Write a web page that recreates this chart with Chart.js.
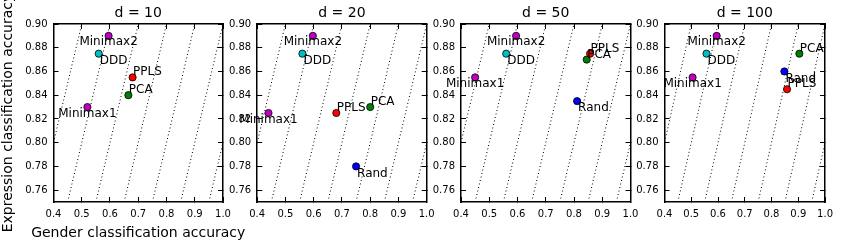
<!DOCTYPE html>
<html><head><meta charset="utf-8">
<script src="https://cdn.jsdelivr.net/npm/chart.js@4/dist/chart.umd.min.js"></script>
<style>
html,body{margin:0;padding:0;background:#fff;width:844px;height:246px;overflow:hidden}
#wrap{position:relative;width:844px;height:246px}
canvas{position:absolute;left:0;top:0}
</style></head>
<body><div id="wrap"></div>
<script>
// ---- data ----
const panelTitles = ['d = 10', 'd = 20', 'd = 50', 'd = 100'];
const methods = ['Minimax1', 'Minimax2', 'DDD', 'PPLS', 'PCA', 'Rand'];
const minimax1X = [0.52, 0.44, 0.45, 0.505];
const minimax1Y = [0.83, 0.825, 0.855, 0.855];
const minimax2X = [0.595, 0.597, 0.595, 0.595];
const minimax2Y = [0.89, 0.89, 0.89, 0.89];
const dddX = [0.56, 0.56, 0.56, 0.557];
const dddY = [0.875, 0.875, 0.875, 0.875];
const pplsX = [0.68, 0.68, 0.857, 0.858];
const pplsY = [0.855, 0.825, 0.875, 0.845];
const pcaX = [0.665, 0.80, 0.845, 0.904];
const pcaY = [0.84, 0.83, 0.87, 0.875];
const randX = [null, 0.75, 0.811, 0.848];
const randY = [null, 0.78, 0.835, 0.86];
const xTicks = [0.4, 0.5, 0.6, 0.7, 0.8, 0.9, 1.0];
const yTicks = [0.76, 0.78, 0.80, 0.82, 0.84, 0.86, 0.88, 0.90];
// dotted reference lines: start x at y=0.75, end x at y=0.90
const diagStartX = [0.35, 0.45, 0.55, 0.65, 0.75, 0.85, 0.95];
const diagEndX = [0.50, 0.60, 0.70, 0.80, 0.90, 1.00, 1.10];
const xLabel = 'Gender classification accuracy';
const yLabel = 'Expression classification accuracy';

const seriesX = {Minimax1: minimax1X, Minimax2: minimax2X, DDD: dddX, PPLS: pplsX, PCA: pcaX, Rand: randX};
const seriesY = {Minimax1: minimax1Y, Minimax2: minimax2Y, DDD: dddY, PPLS: pplsY, PCA: pcaY, Rand: randY};

// ---- styles ----
const colors = {Minimax1: '#bf00bf', Minimax2: '#bf00bf', DDD: '#00bfbf', PPLS: '#ff0000', PCA: '#008000', Rand: '#0000ff'};
const labelStyle = {
  Minimax1: {align: 'center', dx: 0, dy: 9.5},
  Minimax2: {align: 'center', dx: 0, dy: 9.5},
  DDD: {align: 'left', dx: 1, dy: 10.3},
  Rand: {align: 'left', dx: 1, dy: 10.3},
  PPLS: {align: 'left', dx: 0.5, dy: -2},
  PCA: {align: 'left', dx: 0.5, dy: -2}
};
const FONT = '"DejaVu Sans", "Liberation Sans", sans-serif';
Chart.defaults.font.family = FONT;
Chart.defaults.color = '#000';

const W = 844, H = 246;
const plotW = 169.5, yAxisW = 53.5, xAxisH = 44, plotTop = 24;
const plotLefts = [53.5, 257.2, 461, 664.5];

const wrap = document.getElementById('wrap');

panelTitles.forEach((title, p) => {
  const cv = document.createElement('canvas');
  cv.width = W; cv.height = H;
  cv.style.width = W + 'px'; cv.style.height = H + 'px';
  wrap.appendChild(cv);

  const datasets = [];
  methods.forEach(m => {
    const x = seriesX[m][p], y = seriesY[m][p];
    if (x == null || y == null) return;
    datasets.push({
      type: 'scatter', methodName: m, order: 0,
      data: [{x: x, y: y}],
      pointRadius: 3.6, pointBorderWidth: 0.8,
      pointBackgroundColor: colors[m], pointBorderColor: '#000',
      clip: false
    });
  });
  diagStartX.forEach((sx, k) => {
    datasets.push({
      type: 'line', order: 1,
      data: [{x: sx, y: 0.75}, {x: diagEndX[k], y: 0.90}],
      borderColor: '#000', borderWidth: 1, borderDash: [1, 2.6],
      pointRadius: 0, fill: false, tension: 0
    });
  });

  const L = plotLefts[p];
  const R = L + plotW;
  const tickGrid = {drawOnChartArea: false, drawTicks: true, tickLength: -5, color: '#000', lineWidth: 1};
  const border = {display: true, color: '#000', width: 1.5};

  const labelPlugin = {
    id: 'panelText' + p,
    afterDatasetsDraw(chart) {
      const ctx = chart.ctx;
      const ca = chart.chartArea;
      ctx.save();
      ctx.fillStyle = '#000';
      ctx.font = '12px ' + FONT;
      ctx.textBaseline = 'alphabetic';
      chart.data.datasets.forEach((ds, i) => {
        if (!ds.methodName) return;
        const pt = chart.getDatasetMeta(i).data[0];
        const st = labelStyle[ds.methodName];
        ctx.textAlign = st.align;
        ctx.fillText(ds.methodName, pt.x + st.dx, pt.y + st.dy);
      });
      ctx.font = '14px ' + FONT;
      ctx.textAlign = 'center';
      ctx.fillText(title, (ca.left + ca.right) / 2, 16.6);
      if (p === 0) {
        ctx.fillText(xLabel, (ca.left + ca.right) / 2, 236.5);
      }
      ctx.restore();
    }
  };

  new Chart(cv, {
    type: 'scatter',
    data: {datasets: datasets},
    options: {
      responsive: false, animation: false, events: [],
      devicePixelRatio: 1,
      layout: {padding: {left: L - yAxisW, right: W - R, top: plotTop, bottom: 0}},
      plugins: {legend: {display: false}, tooltip: {enabled: false}, title: {display: false}},
      scales: {
        x: {
          type: 'linear', position: 'bottom', min: 0.4, max: 1.0,
          afterBuildTicks: s => { s.ticks = xTicks.map(v => ({value: v})); },
          afterFit: s => { s.height = xAxisH; },
          ticks: {autoSkip: false, maxRotation: 0, padding: 11, font: {size: 10}, color: '#000',
                  callback: v => Number(v).toFixed(1)},
          grid: tickGrid, border: border
        },
        x2: {
          type: 'linear', position: 'top', min: 0.4, max: 1.0,
          afterBuildTicks: s => { s.ticks = xTicks.map(v => ({value: v})); },
          afterFit: s => { s.height = 0; },
          ticks: {display: false},
          grid: tickGrid, border: border
        },
        y: {
          type: 'linear', position: 'left', min: 0.75, max: 0.90,
          afterBuildTicks: s => { s.ticks = yTicks.map(v => ({value: v})); },
          afterFit: s => { s.width = yAxisW; },
          ticks: {autoSkip: false, padding: 11, font: {size: 10}, color: '#000',
                  callback: v => Number(v).toFixed(2)},
          grid: tickGrid, border: border,
          title: {display: p === 0, text: yLabel, font: {size: 14}, color: '#000', padding: {top: 0, bottom: 0}}
        },
        y2: {
          type: 'linear', position: 'right', min: 0.75, max: 0.90,
          afterBuildTicks: s => { s.ticks = yTicks.map(v => ({value: v})); },
          afterFit: s => { s.width = 0; },
          ticks: {display: false},
          grid: tickGrid, border: border
        }
      }
    },
    plugins: [labelPlugin]
  });
});
</script>
</body></html>
